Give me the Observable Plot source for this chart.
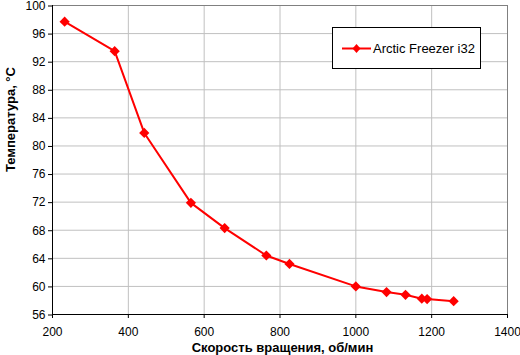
<!DOCTYPE html>
<html><head><meta charset="utf-8">
<script src="https://cdn.jsdelivr.net/npm/d3@7"></script>
<script src="https://cdn.jsdelivr.net/npm/@observablehq/plot@0.6"></script>
<style>
body{margin:0;background:#fff;}
#wrap{position:relative;width:520px;height:355px;font-family:"Liberation Sans",Arial,sans-serif;}
#legend{position:absolute;left:332px;top:27px;width:147px;height:40px;border:1px solid #000;background:#fff;}
#legend svg{position:absolute;left:0;top:0;}
</style></head><body><div id="wrap"></div>
<script>
const speed = [232, 364, 442, 565, 654, 764, 825, 1000, 1081, 1131, 1174, 1188, 1258];
const temp = [97.7, 93.5, 81.85, 71.9, 68.3, 64.4, 63.2, 60.0, 59.2, 58.8, 58.25, 58.2, 57.9];
const xTicks = [200, 400, 600, 800, 1000, 1200, 1400];
const yTicks = [56, 60, 64, 68, 72, 76, 80, 84, 88, 92, 96, 100];
const seriesName = "Arctic Freezer i32";
const xTitle = "Скорость вращения, об/мин";
const yTitle = "Температура, °С";

const data = speed.map((s, i) => ({speed: s, temp: temp[i]}));
const font = "'Liberation Sans', Arial, sans-serif";

const chart = Plot.plot({
  width: 520, height: 355,
  marginLeft: 52, marginRight: 13, marginTop: 5, marginBottom: 41,
  style: {fontFamily: font, fontSize: "12px", color: "#000", background: "#fff", overflow: "visible"},
  x: {domain: [200, 1400]},
  y: {domain: [56, 100]},
  marks: [
    Plot.gridX(xTicks, {stroke: "#c0c0c0", strokeOpacity: 1}),
    Plot.gridY(yTicks, {stroke: "#c0c0c0", strokeOpacity: 1}),
    Plot.frame({stroke: "#808080"}),
    Plot.ruleX([200], {stroke: "#000"}),
    Plot.ruleY([56], {stroke: "#000"}),
    Plot.axisX(xTicks, {tickSize: 4, tickPadding: 9, label: null, fontSize: 12, tickFormat: d => String(d)}),
    Plot.axisY(yTicks, {tickSize: 4, tickPadding: 3, label: null, fontSize: 12, tickFormat: d => String(d), dy: 0.5}),
    Plot.line(data, {x: "speed", y: "temp", stroke: "#ff0000", strokeWidth: 2}),
    Plot.dot(data, {x: "speed", y: "temp", symbol: "diamond2", r: 4.6, fill: "#ff0000", stroke: "none"}),
    Plot.text([yTitle], {text: d => d, frameAnchor: "left", rotate: -90, dx: -42, dy: 12, fontWeight: "bold", fontSize: 13, lineAnchor: "middle"}),
    Plot.text([xTitle], {text: d => d, frameAnchor: "bottom", dx: 2.5, dy: 33, fontWeight: "bold", fontSize: 13, lineAnchor: "middle"})
  ]
});
const wrap = document.getElementById("wrap");
wrap.appendChild(chart);

const legend = document.createElement("div");
legend.id = "legend";
legend.innerHTML = `<svg width="147" height="40">
  <line x1="9" x2="38" y1="20.5" y2="20.5" stroke="#ff0000" stroke-width="2"/>
  <path d="M23.5,16 L27.5,20.5 L23.5,25 L19.5,20.5Z" fill="#ff0000"/>
  <text x="40" y="24.5" font-family="${font}" font-size="13" fill="#000">${seriesName}</text>
</svg>`;
wrap.appendChild(legend);
</script></body></html>
